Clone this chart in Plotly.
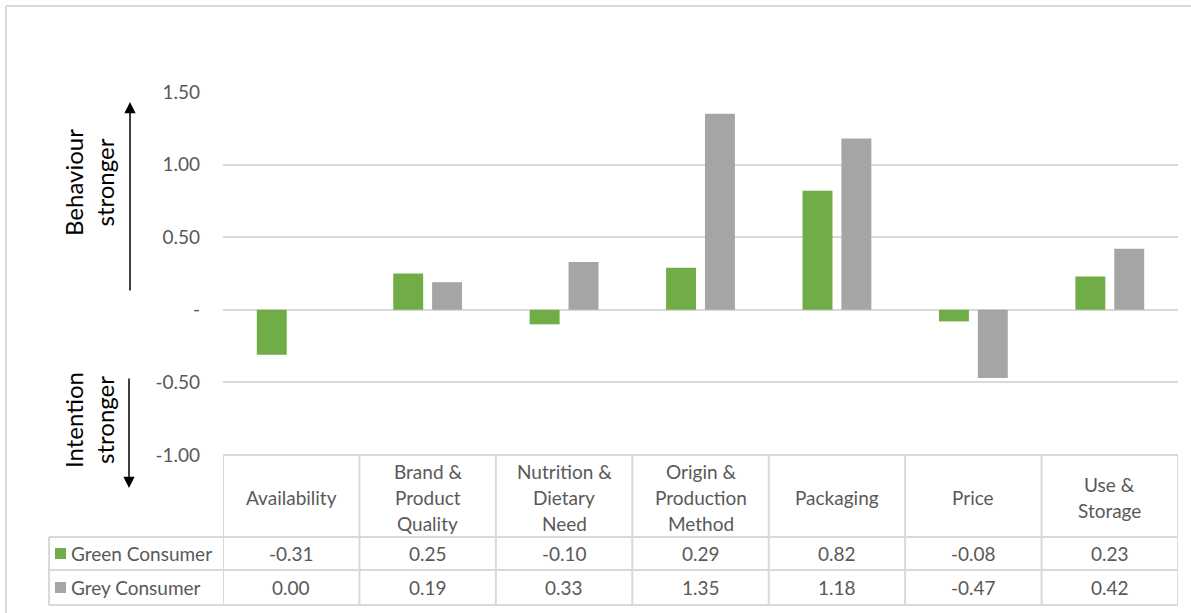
import plotly.graph_objects as go

# ---- data -------------------------------------------------------------
categories = ["Availability", "Brand & Product Quality", "Nutrition & Dietary Need",
              "Origin & Production Method", "Packaging", "Price", "Use & Storage"]
header_lines = [["Availability"], ["Brand &", "Product", "Quality"],
                ["Nutrition &", "Dietary", "Need"], ["Origin &", "Production", "Method"],
                ["Packaging"], ["Price"], ["Use &", "Storage"]]
series_names = ["Green Consumer", "Grey Consumer"]
green_values = [-0.31, 0.25, -0.10, 0.29, 0.82, -0.08, 0.23]
grey_values = [0.00, 0.19, 0.33, 1.35, 1.18, -0.47, 0.42]
y_tick_values = [-1.0, -0.5, 0.0, 0.5, 1.0, 1.5]
y_tick_labels = ["-1.00", "-0.50", "-", "0.50", "1.00", "1.50"]

# ---- page geometry (pixels) --------------------------------------------
W, H = 1191, 613
PL, PR, PT, PB = 223, 1178, 92, 455          # plot area edges
FONT = "Lato, 'Open Sans', sans-serif"
TXT = "#595959"
LINE = "#D9D9D9"
colors = ["#70AD47", "#A5A5A5"]
TABLE_SIZE = 19


def px_x(px):
    return (px - PL) / (PR - PL)


def px_y(py):
    return (PB - py) / (PB - PT)


fig = go.Figure()
for name, vals, col in zip(series_names, [green_values, grey_values], colors):
    fig.add_trace(go.Bar(x=categories, y=vals, name=name, marker_color=col,
                         marker_line_width=0, showlegend=False))

shapes = []
annotations = []


def hline(y, x0, x1, xref="paper"):
    shapes.append(dict(type="line", xref=xref, yref="paper", x0=x0, x1=x1,
                       y0=px_y(y), y1=px_y(y), line=dict(color=LINE, width=2)))


def vline(x, y0, y1, xref="paper"):
    shapes.append(dict(type="line", xref=xref, yref="paper", x0=x, x1=x,
                       y0=px_y(y0), y1=px_y(y1), line=dict(color=LINE, width=2)))


# data table grid
ROW_HDR_L = 49
HDR_BOT, ROW1_BOT, ROW2_BOT = 537, 570, 605
hline(PB, px_x(PL), px_x(PR))
for y in (HDR_BOT, ROW1_BOT, ROW2_BOT):
    hline(y, px_x(ROW_HDR_L), px_x(PR))
vline(px_x(ROW_HDR_L), HDR_BOT, ROW2_BOT)
n = len(categories)
for i in range(n + 1):
    vline(i - 0.5, PB, ROW2_BOT, xref="x")

# outer chart frame
shapes.append(dict(type="line", xref="paper", yref="paper", x0=px_x(6), x1=px_x(W),
                   y0=px_y(6), y1=px_y(6), line=dict(color=LINE, width=2)))
shapes.append(dict(type="line", xref="paper", yref="paper", x0=px_x(6), x1=px_x(6),
                   y0=px_y(6), y1=px_y(H), line=dict(color=LINE, width=2)))

# header cells
HDR_MID = (PB + HDR_BOT) / 2 + 1
LINE_STEP = 26
for i, lines in enumerate(header_lines):
    k = len(lines)
    for j, t in enumerate(lines):
        yc = HDR_MID + (j - (k - 1) / 2) * LINE_STEP
        annotations.append(dict(x=categories[i], xref="x", y=px_y(yc), yref="paper",
                                text=t, showarrow=False, xanchor="center", yanchor="middle",
                                font=dict(family=FONT, size=TABLE_SIZE, color=TXT)))

# value rows with legend keys
row_mids = [(HDR_BOT + ROW1_BOT) / 2, (ROW1_BOT + ROW2_BOT) / 2]
for name, vals, col, ym in zip(series_names, [green_values, grey_values], colors, row_mids):
    shapes.append(dict(type="rect", xref="paper", yref="paper", x0=px_x(55), x1=px_x(66),
                       y0=px_y(ym + 5.5), y1=px_y(ym - 5.5), line=dict(width=0), fillcolor=col))
    annotations.append(dict(x=px_x(69), xref="paper", y=px_y(ym), yref="paper", text=name,
                            showarrow=False, xanchor="left", yanchor="middle",
                            font=dict(family=FONT, size=TABLE_SIZE, color=TXT)))
    for c, v in zip(categories, vals):
        annotations.append(dict(x=c, xref="x", y=px_y(ym), yref="paper", text=f"{v:.2f}",
                                showarrow=False, xanchor="center", yanchor="middle",
                                font=dict(family=FONT, size=TABLE_SIZE, color=TXT)))

# side titles with direction arrows
for text, yc in (("Behaviour<br>stronger", 183), ("Intention<br>stronger", 420)):
    annotations.append(dict(x=px_x(89), xref="paper", y=px_y(yc), yref="paper", text=text,
                            showarrow=False, textangle=-90, xanchor="center", yanchor="middle",
                            font=dict(family=FONT, size=24, color="#000000")))
annotations.append(dict(x=px_x(130), xref="paper", y=px_y(102), yref="paper", text="",
                        showarrow=True, arrowhead=2, arrowsize=1.5, arrowwidth=1.5,
                        arrowcolor="#000000", ax=0, ay=190))
annotations.append(dict(x=px_x(129), xref="paper", y=px_y(488), yref="paper", text="",
                        showarrow=True, arrowhead=2, arrowsize=1.5, arrowwidth=1.5,
                        arrowcolor="#000000", ax=0, ay=-111))

fig.update_layout(
    width=W, height=H,
    margin=dict(l=PL, r=W - PR, t=PT, b=H - PB, pad=0),
    paper_bgcolor="white", plot_bgcolor="white",
    barmode="group", bargap=0.43, bargroupgap=0.23,
    shapes=shapes, annotations=annotations,
    font=dict(family=FONT, color=TXT),
)
fig.update_xaxes(showticklabels=False, showgrid=False, zeroline=False, showline=False,
                 ticks="", range=[-0.5, n - 0.5])
fig.update_yaxes(range=[-1.0, 1.5], tickvals=y_tick_values, ticktext=y_tick_labels,
                 showgrid=True, gridcolor=LINE, gridwidth=2, zeroline=True,
                 zerolinecolor=LINE, zerolinewidth=2, showline=False, ticks="",
                 ticklabelstandoff=22, tickfont=dict(family=FONT, size=19, color=TXT))

fig.write_html("out.html")
